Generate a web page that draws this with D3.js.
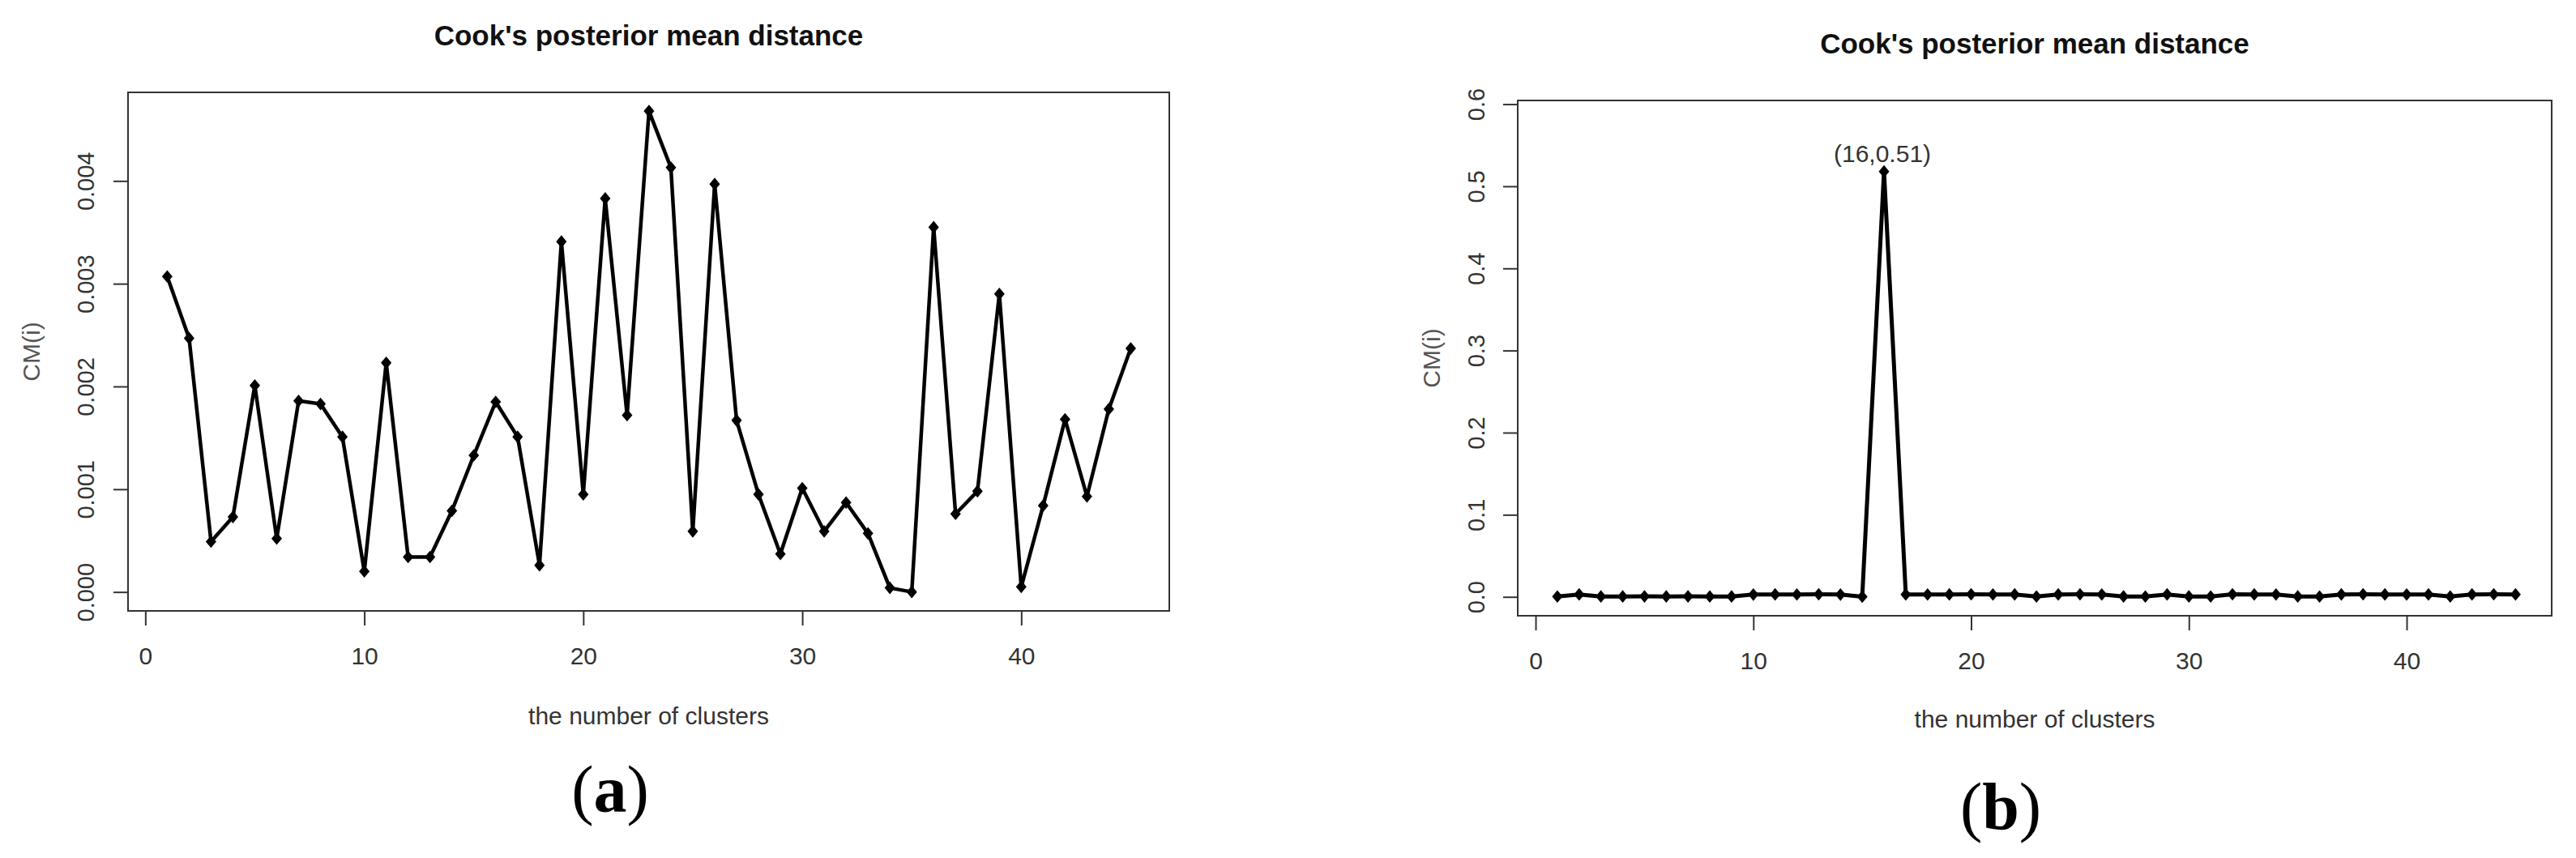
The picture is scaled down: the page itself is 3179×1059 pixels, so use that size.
<!DOCTYPE html>
<html>
<head>
<meta charset="utf-8">
<script src="https://cdn.jsdelivr.net/npm/d3@7"></script>
<style>
  body { margin: 0; background: #fff; }
  svg text { font-family: "Liberation Sans", Arial, sans-serif; }
</style>
</head>
<body>
<div id="chart"></div>
<script>
// cluster index on the x axis (both panels)
const clusters = [1, 2, 3, 4, 5, 6, 7, 8, 9, 10, 11, 12, 13, 14, 15, 16, 17, 18, 19, 20,
  21, 22, 23, 24, 25, 26, 27, 28, 29, 30, 31, 32, 33, 34, 35, 36, 37, 38, 39, 40,
  41, 42, 43, 44, 45];

// (a) Cook's posterior mean distance
const cookA = [0.00307, 0.00247, 0.00049, 0.00073, 0.00201, 0.00052, 0.00186, 0.00183,
  0.00151, 0.00020, 0.00223, 0.00034, 0.00034, 0.00079, 0.00133, 0.00185, 0.00151,
  0.00026, 0.00341, 0.00095, 0.00383, 0.00172, 0.00468, 0.00413, 0.00059, 0.00397,
  0.00167, 0.00095, 0.00037, 0.00101, 0.00059, 0.00087, 0.00057, 0.00004, 0.00000,
  0.00355, 0.00076, 0.00098, 0.00290, 0.00005, 0.00084, 0.00168, 0.00093, 0.00178,
  0.00237];

// (b) same measure with the outlying cluster 16
const cookB = [0.0004, 0.0030, 0.0005, 0.0005, 0.0006, 0.0005, 0.0006, 0.0004, 0.0005,
  0.0028, 0.0030, 0.0029, 0.0031, 0.0028, 0.0002, 0.518, 0.0030, 0.0029, 0.0030,
  0.0031, 0.0029, 0.0030, 0.0004, 0.0030, 0.0031, 0.0029, 0.0005, 0.0004, 0.0030,
  0.0005, 0.0004, 0.0031, 0.0030, 0.0029, 0.0005, 0.0004, 0.0030, 0.0031, 0.0030,
  0.0029, 0.0030, 0.0004, 0.0030, 0.0031, 0.0030];

const xTicks = [0, 10, 20, 30, 40];
const yTicksA = [0, 0.001, 0.002, 0.003, 0.004];
const yTickLabelsA = ["0.000", "0.001", "0.002", "0.003", "0.004"];
const yTicksB = [0, 0.1, 0.2, 0.3, 0.4, 0.5, 0.6];
const yTickLabelsB = ["0.0", "0.1", "0.2", "0.3", "0.4", "0.5", "0.6"];

const titleText = "Cook's posterior mean distance";
const xLabelText = "the number of clusters";
const yLabelText = "CM(i)";
const peakIndex = 15;
const peakLabel = "(16,0.51)";

const W = 3179, H = 1059;
const svg = d3.select("#chart").append("svg")
  .attr("width", W).attr("height", H)
  .style("background", "#fff");

function drawPanel(p) {
  const x = d3.scaleLinear().domain(p.xDomain).range([p.left, p.right]);
  const y = d3.scaleLinear().domain(p.yDomain).range([p.bottom, p.top]);
  const g = svg.append("g");
  const cx = (p.left + p.right) / 2, cy = (p.top + p.bottom) / 2;

  // title
  g.append("text")
    .attr("x", cx).attr("y", p.titleY)
    .attr("text-anchor", "middle").attr("dominant-baseline", "central")
    .attr("font-size", 35).attr("font-weight", "bold").attr("fill", "#111")
    .text(titleText);

  // x axis
  const gx = g.append("g")
    .attr("transform", `translate(0,${p.bottom})`)
    .call(d3.axisBottom(x).tickValues(xTicks).tickSize(18).tickSizeOuter(0));
  gx.attr("font-size", null).attr("font-family", null).attr("color", "#333");
  gx.select(".domain").remove();
  gx.selectAll(".tick line").attr("stroke-width", 2);
  gx.selectAll(".tick text")
    .attr("y", 55).attr("dy", null)
    .attr("dominant-baseline", "central")
    .attr("font-size", 30).attr("fill", "#333");

  // y axis, labels rotated like R's default
  const gy = g.append("g")
    .attr("transform", `translate(${p.left},0)`)
    .call(d3.axisLeft(y).tickValues(p.yTicks).tickSize(18).tickSizeOuter(0)
      .tickFormat((d, i) => p.yLabels[i]));
  gy.attr("font-size", null).attr("font-family", null).attr("color", "#333");
  gy.select(".domain").remove();
  gy.selectAll(".tick line").attr("stroke-width", 2);
  gy.selectAll(".tick text")
    .attr("x", null).attr("dy", null)
    .attr("transform", `translate(${-p.tickLabelOffset},0) rotate(-90)`)
    .attr("text-anchor", "middle").attr("dominant-baseline", "central")
    .attr("font-size", 29).attr("fill", "#333");

  // box
  g.append("rect")
    .attr("x", p.left).attr("y", p.top)
    .attr("width", p.right - p.left).attr("height", p.bottom - p.top)
    .attr("fill", "none").attr("stroke", "#333").attr("stroke-width", 2);

  // axis titles
  g.append("text")
    .attr("x", cx).attr("y", p.xLabelY)
    .attr("text-anchor", "middle").attr("dominant-baseline", "central")
    .attr("font-size", 30).attr("fill", "#333")
    .text(xLabelText);
  g.append("text")
    .attr("transform", `translate(${p.yLabelX},${cy}) rotate(-90)`)
    .attr("text-anchor", "middle").attr("dominant-baseline", "central")
    .attr("font-size", 30).attr("fill", "#555")
    .text(yLabelText);

  // series
  const pts = clusters.map((c, i) => [c, p.values[i]]);
  g.append("path")
    .datum(pts)
    .attr("fill", "none").attr("stroke", "#000")
    .attr("stroke-width", p.lineWidth).attr("stroke-linejoin", "round")
    .attr("d", d3.line().x(d => x(d[0])).y(d => y(d[1])));

  g.selectAll(".pt")
    .data(pts)
    .join("path")
    .attr("class", "pt")
    .attr("fill", "#000")
    .attr("transform", d => `translate(${x(d[0])},${y(d[1])}) scale(1,1.2) rotate(45)`)
    .attr("d", d3.symbol(d3.symbolSquare, 85)());

  if (p.annotate) {
    g.append("text")
      .attr("x", x(clusters[peakIndex]) - 2)
      .attr("y", y(p.values[peakIndex]) - 22)
      .attr("text-anchor", "middle").attr("dominant-baseline", "central")
      .attr("font-size", 30).attr("fill", "#333")
      .text(peakLabel);
  }

  // panel tag: (a) / (b)
  const tag = g.append("text")
    .attr("x", p.tagX).attr("y", p.tagY)
    .attr("text-anchor", "middle")
    .attr("font-size", 82).attr("fill", "#000")
    .style("font-family", "'Liberation Serif', 'DejaVu Serif', serif");
  tag.append("tspan").text("(");
  tag.append("tspan").attr("font-weight", "bold").text(p.tag);
  tag.append("tspan").text(")");
}

drawPanel({
  left: 158, right: 1443, top: 114, bottom: 754,
  xDomain: [-0.79, 46.76], yDomain: [-0.000184, 0.004862],
  yTicks: yTicksA, yLabels: yTickLabelsA, values: cookA,
  tickLabelOffset: 52, titleY: 43, xLabelY: 883, yLabelX: 38,
  lineWidth: 4.5, annotate: false,
  tag: "a", tagX: 753, tagY: 1002
});

drawPanel({
  left: 1873, right: 3149, top: 124, bottom: 760,
  xDomain: [-0.82, 46.66], yDomain: [-0.023, 0.6045],
  yTicks: yTicksB, yLabels: yTickLabelsB, values: cookB,
  tickLabelOffset: 51, titleY: 53, xLabelY: 887, yLabelX: 1766,
  lineWidth: 5, annotate: true,
  tag: "b", tagX: 2469, tagY: 1023
});
</script>
</body>
</html>
